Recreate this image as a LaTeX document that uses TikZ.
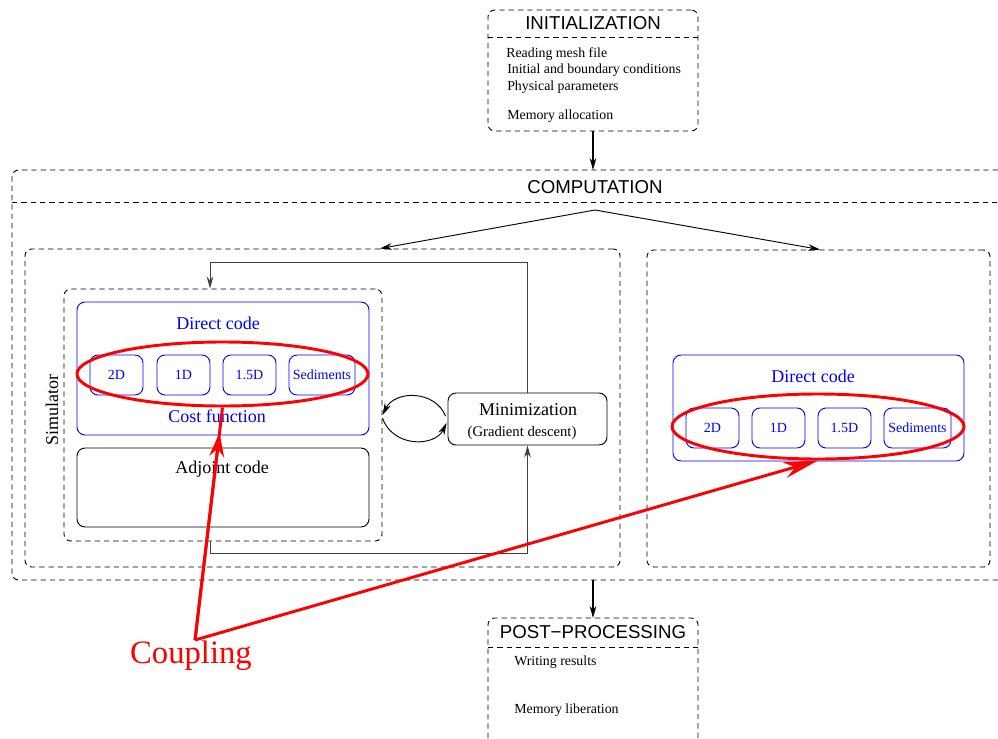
\documentclass[tikz,border=0pt]{standalone}
\usepackage{fontspec}
\setmainfont{Liberation Serif}
\setsansfont{Liberation Sans}
\usetikzlibrary{arrows.meta,calc,shapes.geometric}
\begin{document}
\begin{tikzpicture}[x=0.75pt,y=-0.75pt,
  dpat/.style={dash pattern=on 4pt off 3pt, line width=0.7pt},
  dbox/.style={draw, dpat, rounded corners=5pt, inner sep=0pt},
  bbox/.style={draw=blue, rounded corners=6pt, line width=0.7pt, inner sep=0pt, text=blue},
  kbox/.style={draw, rounded corners=6pt, line width=0.7pt, inner sep=0pt},
  sz/.style 2 args={minimum width=#1*0.75pt, minimum height=#2*0.75pt},
  ttl/.style={font=\sffamily\fontsize{14}{16}\selectfont, inner sep=0pt},
  small/.style={font=\fontsize{10.4}{12}\selectfont, inner sep=0pt, anchor=west},
  big/.style={font=\fontsize{13.5}{15}\selectfont, inner sep=0pt},
  tiny/.style={font=\fontsize{10.5}{12}\selectfont},
  karr/.style={-{Stealth[length=9pt,width=5pt]}, line width=0.7pt},
  fb/.style={karr, black!75},
  redl/.style={draw=red, line width=2.2pt},
  redell/.style={ellipse, draw=red, line width=2.2pt, inner sep=0pt},
]
\useasboundingbox (0,0) rectangle (998,738);

% INITIALIZATION
\node[dbox, sz={210}{121}] (init) at (593,70.5) {};
\draw[dpat] (488,37) -- (698,37);
\node[ttl] (initt) at (593,23) {INITIALIZATION};
\node[small] (i1) at (506,54) {Reading mesh file};
\node[small] (i2) at (507,70) {Initial and boundary conditions};
\node[small] (i3) at (507,87) {Physical parameters};
\node[small] (i4) at (507,116) {Memory allocation};

% COMPUTATION
\coordinate (comptop) at (593,170);
\coordinate (compbot) at (593,580);
\draw[dpat, rounded corners=5pt] (998,170) -- (12,170) -- (12,580) -- (998,580);
\draw[dpat] (12,202) -- (998,202);
\node[ttl] (compt) at (595,187) {COMPUTATION};
\draw[karr, line width=1.3pt] (init.south) -- (comptop);

\node[dbox, sz={595}{318}] (left) at (322.5,408) {};
\node[dbox, sz={343}{317}] (right) at (818.5,408.5) {};
\coordinate (fork) at (595,210);
\draw[karr] (fork) -- (380,0 |- left.north);
\draw[karr] (fork) -- (820,0 |- right.north);

% Simulator
\node[dbox, sz={318}{252}] (sim) at (223,415) {};
\node[big, rotate=90] (simlab) at (52,410) {Simulator};
\node[bbox, sz={292}{133}] (dir) at (223,368.5) {};
\node[big, text=blue] (dirt) at (218,323) {Direct code};
\node[big, text=blue] (cost) at (217,416) {Cost function};
\node[bbox, sz={53}{40}, tiny] (a2d) at (116.5,375) {2D};
\node[bbox, sz={53}{40}, tiny] (a1d) at (183.5,375) {1D};
\node[bbox, sz={53}{40}, tiny] (a15d) at (249.5,375) {1.5D};
\node[bbox, sz={66}{40}, tiny] (ased) at (322,375) {Sediments};
\node[redell, sz={291}{64}] (ell1) at (222.5,374) {};

\node[kbox, sz={292}{79}] (adj) at (223,487.5) {};
\node[big] (adjt) at (222,469) {Adjoint code};

% Minimization
\node[kbox, sz={159}{52}] (min) at (527.5,419) {};
\node[big] (mint) at (528,410) {Minimization};
\node[font=\fontsize{11}{13}\selectfont, inner sep=0pt] (gd) at (522,433) {(Gradient descent)};

\coordinate (fbb) at (527.5,553);
\coordinate (fbt) at (527.5,262);
\draw[fb] (210,0 |- sim.south) -- (210,553) -- (fbb) -- (min.south);
\draw[fb] (min.north) -- (fbt) -- (210,262) -- (210,0 |- sim.north);

\draw[karr] ($(min.west)+(-2,-3)$) .. controls (435,390) and (395,390) .. (sim.east);
\draw[karr] ($(sim.east)+(0,3)$) .. controls (393,448) and (435,447) .. ($(min.west)+(-1,4)$);

% Right side
\node[bbox, sz={291}{106}] (rdir) at (818.5,408) {};
\node[big, text=blue] (rdirt) at (813,376) {Direct code};
\node[bbox, sz={53}{40}, tiny] (b2d) at (712.5,428) {2D};
\node[bbox, sz={53}{40}, tiny] (b1d) at (778.5,428) {1D};
\node[bbox, sz={53}{40}, tiny] (b15d) at (844.5,428) {1.5D};
\node[bbox, sz={67}{40}, tiny] (bsed) at (917.5,428) {Sediments};
\node[redell, sz={292}{65}] (ell2) at (818,426.5) {};

% Coupling
\coordinate (apex) at (195,640);
\node[text=red, font=\fontsize{24.5}{28}\selectfont, inner sep=0pt] (coup) at (191,656) {Coupling};
\draw[redl] (apex) -- (ell1.south);
\draw[redl, -{Stealth[length=18pt,width=11pt]}, shorten >=19pt] (apex) -- (ell1.south);
\draw[redl, -{Stealth[length=26pt,width=12pt]}] (apex) -- (ell2.south);

% POST-PROCESSING
\coordinate (posttop) at (593,618);
\draw[karr, line width=1.3pt] (compbot) -- (posttop);
\draw[dpat, rounded corners=5pt] (488,738) -- (488,618) -- (698,618) -- (698,738);
\draw[dpat] (488,647) -- (698,647);
\node[ttl] (postt) at (593,632) {POST−PROCESSING};
\node[small] (p1) at (514,662) {Writing results};
\node[small] (p2) at (514,710) {Memory liberation};
\end{tikzpicture}
\end{document}
